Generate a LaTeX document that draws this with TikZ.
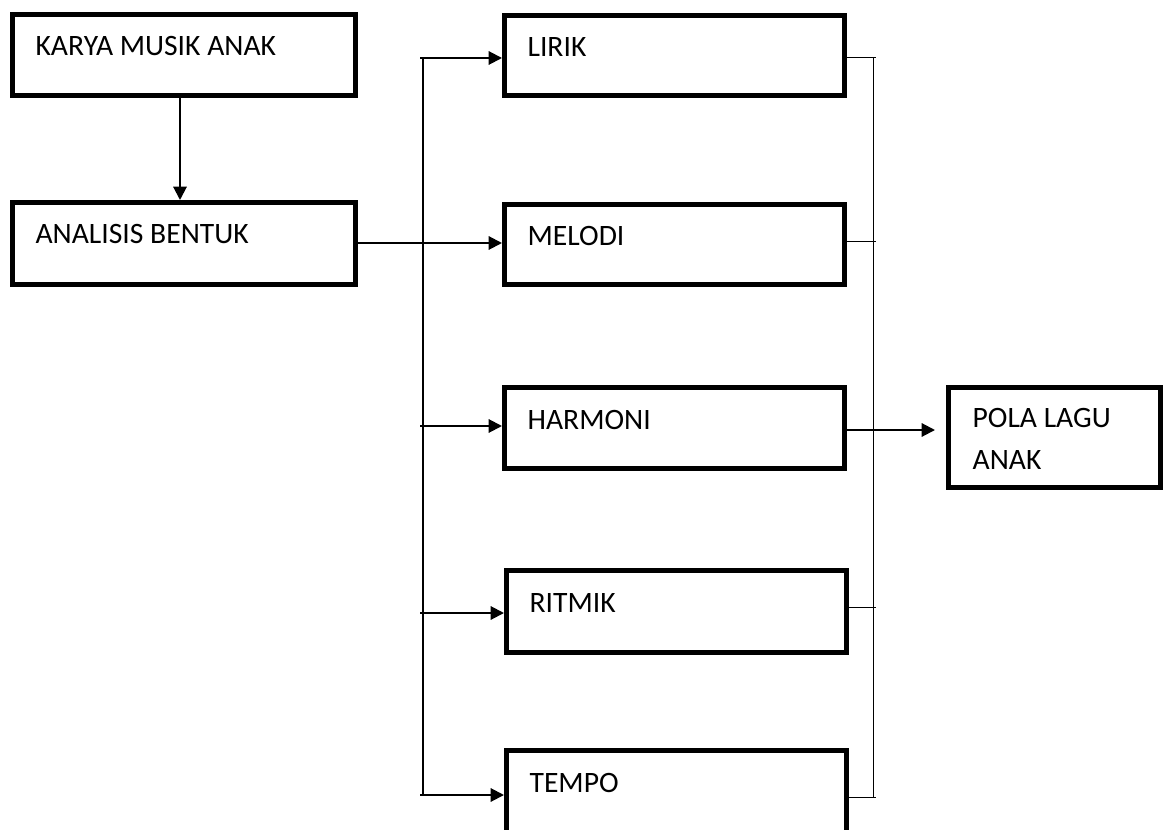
\documentclass[tikz,border=0pt]{standalone}
\usepackage{fontspec}
\setmainfont{Carlito}
\usetikzlibrary{positioning, arrows.meta, calc}

\begin{document}
\begin{tikzpicture}[
        x=0.75pt, y=-0.75pt,
        >={Triangle[length=10pt, width=10pt]},
        box/.style={draw, line width=3.75pt, rectangle, inner sep=0pt, anchor=north west},
        lbl/.style={anchor=base west, inner sep=0pt, xshift=19pt, yshift=-33pt, align=left,
                    font=\fontsize{22.2}{31.5}\selectfont},
        link/.style={line width=1.5pt},
        thinlink/.style={line width=0.75pt},
    ]
        \clip (0,0) rectangle (1170,830);

        % Draw the left column
        \node[box, minimum width=257.25pt, minimum height=60.75pt,
              label={[lbl]north west:KARYA MUSIK ANAK}] (karya) at (10,12) {};
        \node[box, minimum width=257.25pt, minimum height=61.5pt,
              label={[lbl]north west:ANALISIS BENTUK}] (analisis) at (10,200) {};

        % Draw the middle column
        \foreach \name / \txt / \x / \y / \h in {lirik/LIRIK/502/13/60, melodi/MELODI/502/202/60,
                harmoni/HARMONI/502/385/60.75, ritmik/RITMIK/504/568/61.5, tempo/TEMPO/504/748/61.5}
            \node[box, minimum width=255pt, minimum height=\h pt,
                  label={[lbl]north west:\txt}] (\name) at (\x,\y) {};

        % Draw the result (base anchor sits on the last line)
        \node[box, minimum width=159pt, minimum height=75pt,
              label={[lbl, xshift=0.75pt, yshift=-30pt]north west:POLA LAGU\\ANAK}] (pola) at (946,385) {};

        \coordinate (down) at (180,100);
        \draw[link, ->] (down |- karya.south) -- (down |- analisis.north);
        \coordinate (across) at (360,243);
        \draw[link, ->] (across -| analisis.east) -- (across -| melodi.west);

        % Left bus to the elements
        \draw[link] (423,58) -- (423,795);
        \foreach \name / \y in {lirik/58, harmoni/426, ritmik/613, tempo/795} {
            \coordinate (L-\name) at (420,\y);
            \draw[link, ->] (L-\name) -- (L-\name -| \name.west);
        }

        % Right bus from the elements
        \draw[thinlink] (873,58) -- (873,797);
        \foreach \name / \y in {lirik/58, melodi/242, ritmik/607, tempo/797} {
            \coordinate (R-\name) at (876,\y);
            \draw[thinlink] (R-\name -| \name.east) -- (R-\name);
        }

        \coordinate (out) at (935,430);
        \draw[link, ->] (out -| harmoni.east) -- (out);
\end{tikzpicture}
\end{document}
